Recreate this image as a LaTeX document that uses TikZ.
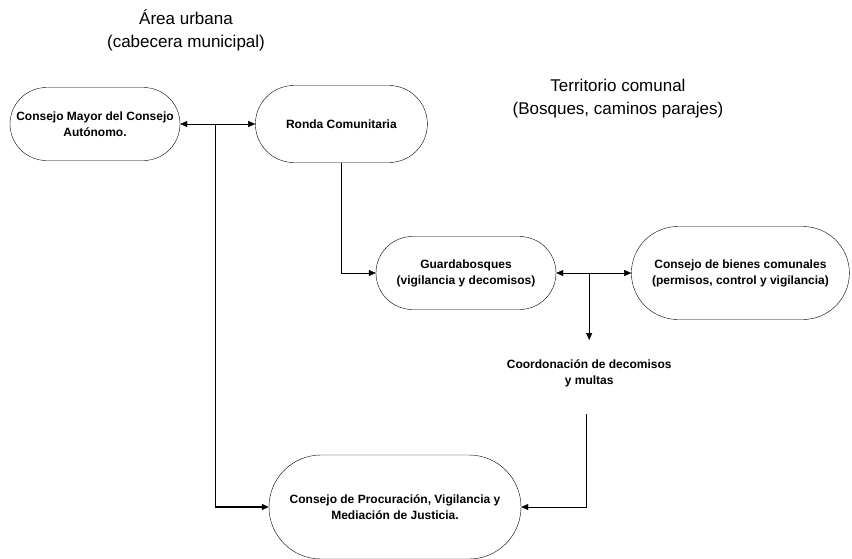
\documentclass[tikz,border=0pt]{standalone}
\usepackage{fontspec}
\setmainfont{Liberation Sans}
\usetikzlibrary{arrows.meta,positioning,calc,shapes.misc}
\tikzset{
  org/.style={draw, rounded rectangle, thin, align=center, inner sep=2pt, font=\fontsize{12}{16}\selectfont\bfseries},
  zone/.style={align=center, font=\fontsize{17}{23}\selectfont},
  note/.style={align=center, font=\fontsize{12}{16}\selectfont\bfseries},
  arrow/.style={-{Triangle[length=7pt,width=6pt]}, thin},
  biarrow/.style={{Triangle[length=7pt,width=6pt]}-{Triangle[length=7pt,width=6pt]}, thin},
}

\begin{document}
\begin{tikzpicture}[x=1pt, y=-1pt, node distance=6mm and 8mm]
  \useasboundingbox (0,0) rectangle (852,558);

  % zones
  \node[zone] (urb) at (186,30) {Área urbana\\(cabecera municipal)};
  \node[zone] (terr) at (618,99) {Territorio comunal\\(Bosques, caminos parajes)};

  % urban councils
  \node[org, minimum width=174pt, minimum height=73pt] (mayor) at (95,124) {Consejo Mayor del Consejo\\Autónomo.};
  \node[org, right=75pt of mayor, minimum width=176pt, minimum height=77pt] (ronda) {Ronda Comunitaria};
  \draw[biarrow] (mayor.east) -- (ronda.west);
  \coordinate (j1) at ($(mayor.east)!0.47!(ronda.west)$);

  % communal territory
  \node[org, minimum width=184pt, minimum height=73pt] (guarda) at (466,273) {Guardabosques\\(vigilancia y decomisos)};
  \node[org, right=75pt of guarda, minimum width=222pt, minimum height=93pt] (bienes) {Consejo de bienes comunales\\(permisos, control y vigilancia)};
  \draw[arrow] (ronda.south) |- (guarda.west);
  \draw[biarrow] (guarda.east) -- (bienes.west);
  \coordinate (j2) at ($(guarda.east)!0.44!(bienes.west)$);

  % decomisos
  \node[note, below=100pt of j2, anchor=center] (coord) {Coordonación de decomisos\\y multas};
  \draw[arrow] (j2) -- ++(0,67);
  \coordinate[below=24pt of coord.south, xshift=-3pt] (c2);

  % justice council
  \node[org, minimum width=256pt, minimum height=104pt] (procur) at (395,507) {Consejo de Procuración, Vigilancia y\\Mediación de Justicia.};
  \draw[arrow, line width=1.2pt] (j1) |- (procur.west);
  \draw[arrow] (c2) |- (procur.east);

\end{tikzpicture}
\end{document}
